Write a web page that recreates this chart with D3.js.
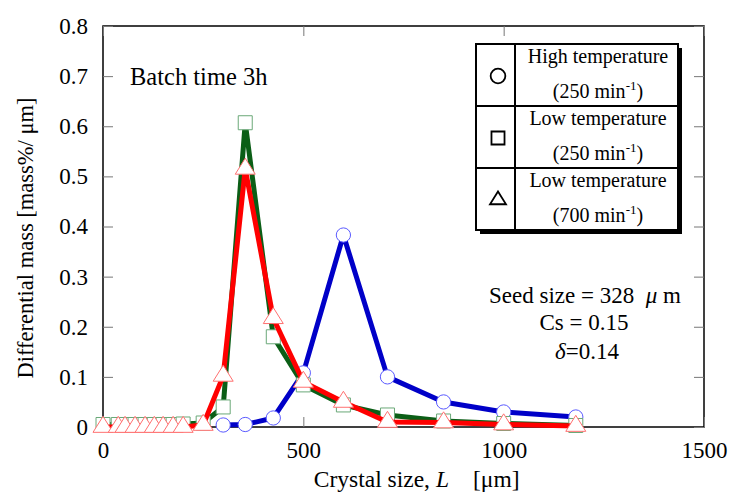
<!DOCTYPE html>
<html>
<head>
<meta charset="utf-8">
<script src="https://cdn.jsdelivr.net/npm/d3@7"></script>
<style>
  body { margin: 0; background: #fff; }
  svg text { font-family: "Liberation Serif", "Times New Roman", serif; fill: #000; }
</style>
</head>
<body>
<svg id="chart" width="730" height="495"></svg>
<script>
// crystal sizes [um]
var sizesLow = [0, 38, 55, 80, 105, 128, 150, 175, 200, 250, 300, 355, 425, 500, 600, 710, 850, 1000, 1180];
var sizesHigh = [300, 355, 425, 500, 600, 710, 850, 1000, 1180];

// differential mass [mass%/um]
var highTemp250 = [0.004, 0.005, 0.018, 0.108, 0.383, 0.100, 0.050, 0.030, 0.020];
var lowTemp250 = [0.005, 0.005, 0.005, 0.005, 0.005, 0.005, 0.005, 0.005, 0.006, 0.008,
                  0.040, 0.607, 0.180, 0.084, 0.044, 0.024, 0.012, 0.007, 0.003];
var lowTemp700 = [0, 0, 0, 0, 0, 0, 0, 0, 0, 0.004,
                  0.102, 0.515, 0.217, 0.090, 0.050, 0.010, 0.009, 0.005, 0.002];

var xTicks = [0, 500, 1000, 1500];
var yTicks = [0, 0.1, 0.2, 0.3, 0.4, 0.5, 0.6, 0.7, 0.8];

var svg = d3.select("#chart");

var x = d3.scaleLinear().domain([0, 1500]).range([103, 704]);
var y = d3.scaleLinear().domain([0, 0.8]).range([427, 26]);

// triangle with given width, apex up, centred on centroid
function triangleType(w) {
  return {
    draw: function(ctx) {
      var h = w * 0.8;
      ctx.moveTo(0, -h * 2 / 3);
      ctx.lineTo(w / 2, h / 3);
      ctx.lineTo(-w / 2, h / 3);
      ctx.closePath();
    }
  };
}

// frame
svg.append("rect")
  .attr("x", x(0)).attr("y", y(0.8))
  .attr("width", x(1500) - x(0)).attr("height", y(0) - y(0.8))
  .attr("fill", "none").attr("stroke", "#000").attr("stroke-width", 1.5);

// inward ticks on all four sides
var yAxisL = d3.axisLeft(y).tickValues(yTicks).tickSize(-10).tickPadding(15)
  .tickFormat(function(d) { return d === 0 ? "0" : d3.format(".1f")(d); });
var yAxisR = d3.axisRight(y).tickValues(yTicks).tickSize(-10).tickFormat("");
var xAxisB = d3.axisBottom(x).tickValues(xTicks).tickSize(-10).tickPadding(15).tickFormat(d3.format("d"));
var xAxisT = d3.axisTop(x).tickValues(xTicks).tickSize(-10).tickFormat("");

function styleAxis(g) {
  g.select(".domain").remove();
  g.selectAll(".tick line").attr("stroke", "#777").attr("stroke-width", 1);
  g.selectAll(".tick text").attr("font-size", 23);
}
svg.append("g").attr("transform", "translate(" + x(0) + ",0)").call(yAxisL).call(styleAxis);
svg.append("g").attr("transform", "translate(" + x(1500) + ",0)").call(yAxisR).call(styleAxis);
svg.append("g").attr("transform", "translate(0," + y(0) + ")").call(xAxisB).call(styleAxis);
svg.append("g").attr("transform", "translate(0," + y(0.8) + ")").call(xAxisT).call(styleAxis);

// series
var series = [
  { xs: sizesHigh, ys: highTemp250, line: "#0000c8", mark: "#5a5aff", type: d3.symbolCircle, size: 160 },
  { xs: sizesLow, ys: lowTemp250, line: "#0b5e16", mark: "#6aa878", type: d3.symbolSquare, size: 196 },
  { xs: sizesLow, ys: lowTemp700, line: "#ff0000", mark: "#ff7070", type: triangleType(20), size: 1 }
];

var line = d3.line().x(function(d) { return x(d[0]); }).y(function(d) { return y(d[1]); });

series.forEach(function(s) {
  var pts = s.xs.map(function(v, i) { return [v, s.ys[i]]; });
  svg.append("path")
    .attr("d", line(pts))
    .attr("fill", "none")
    .attr("stroke", s.line)
    .attr("stroke-width", 5)
    .attr("stroke-linejoin", "round");
  svg.selectAll(null).data(pts).enter().append("path")
    .attr("transform", function(d) { return "translate(" + x(d[0]) + "," + y(d[1]) + ")"; })
    .attr("d", d3.symbol().type(s.type).size(s.size))
    .attr("fill", "#fff")
    .attr("stroke", s.mark)
    .attr("stroke-width", 1);
});

// title
svg.append("text").attr("x", 130).attr("y", 85).attr("font-size", 24.5).text("Batch time 3h");

// legend
var lg = svg.append("g");
var lx = 476, ly = 44, lw = 202, rowH = 62;
lg.append("rect").attr("x", lx + 4).attr("y", ly + 4).attr("width", lw).attr("height", rowH * 3).attr("fill", "#000");
lg.append("rect").attr("x", lx).attr("y", ly).attr("width", lw).attr("height", rowH * 3)
  .attr("fill", "#fff").attr("stroke", "#000").attr("stroke-width", 2);
lg.append("line").attr("x1", 515).attr("x2", 515).attr("y1", ly).attr("y2", ly + rowH * 3).attr("stroke", "#000").attr("stroke-width", 2);
[1, 2].forEach(function(i) {
  lg.append("line").attr("x1", lx).attr("x2", lx + lw).attr("y1", ly + rowH * i).attr("y2", ly + rowH * i)
    .attr("stroke", "#000").attr("stroke-width", 2);
});

var legendItems = [
  { name: "High temperature", speed: "(250 min", type: d3.symbolCircle, size: 170 },
  { name: "Low temperature", speed: "(250 min", type: d3.symbolSquare, size: 170 },
  { name: "Low temperature", speed: "(700 min", type: triangleType(16), size: 1 }
];
legendItems.forEach(function(it, i) {
  var cy = ly + rowH * i + rowH / 2;
  lg.append("path").attr("transform", "translate(498," + (cy + 1) + ")")
    .attr("d", d3.symbol().type(it.type).size(it.size))
    .attr("fill", "none").attr("stroke", "#000").attr("stroke-width", 1.8);
  lg.append("text").attr("x", 598).attr("y", cy - 12).attr("text-anchor", "middle").attr("font-size", 20).text(it.name);
  var t = lg.append("text").attr("x", 598).attr("y", cy + 23).attr("text-anchor", "middle").attr("font-size", 20);
  t.append("tspan").text(it.speed);
  t.append("tspan").attr("dy", -8).attr("font-size", 13).text("-1");
  t.append("tspan").attr("dy", 8).text(")");
});

// conditions
var ann = svg.append("g").attr("font-size", 23).attr("text-anchor", "middle");
var t1 = ann.append("text").attr("x", 585).attr("y", 303).attr("xml:space", "preserve");
t1.append("tspan").text("Seed size = 328  ");
t1.append("tspan").attr("font-style", "italic").text("\u03bc");
t1.append("tspan").text(" m");
ann.append("text").attr("x", 584).attr("y", 330).text("Cs = 0.15");
var t3 = ann.append("text").attr("x", 587).attr("y", 359);
t3.append("tspan").attr("font-style", "italic").text("\u03b4");
t3.append("tspan").text("=0.14");

// axis titles
var xlab = svg.append("g").attr("font-size", 23.5);
xlab.append("text").attr("x", 430).attr("y", 487).attr("text-anchor", "end").text("Crystal size,");
xlab.append("text").attr("x", 436).attr("y", 487).attr("font-style", "italic").text("L");
xlab.append("text").attr("x", 473).attr("y", 487).text("[\u03bcm]");

svg.append("text").attr("transform", "translate(33,238) rotate(-90)")
  .attr("text-anchor", "middle").attr("font-size", 22.5)
  .text("Differential mass [mass%/ \u03bcm]");
</script>
</body>
</html>
